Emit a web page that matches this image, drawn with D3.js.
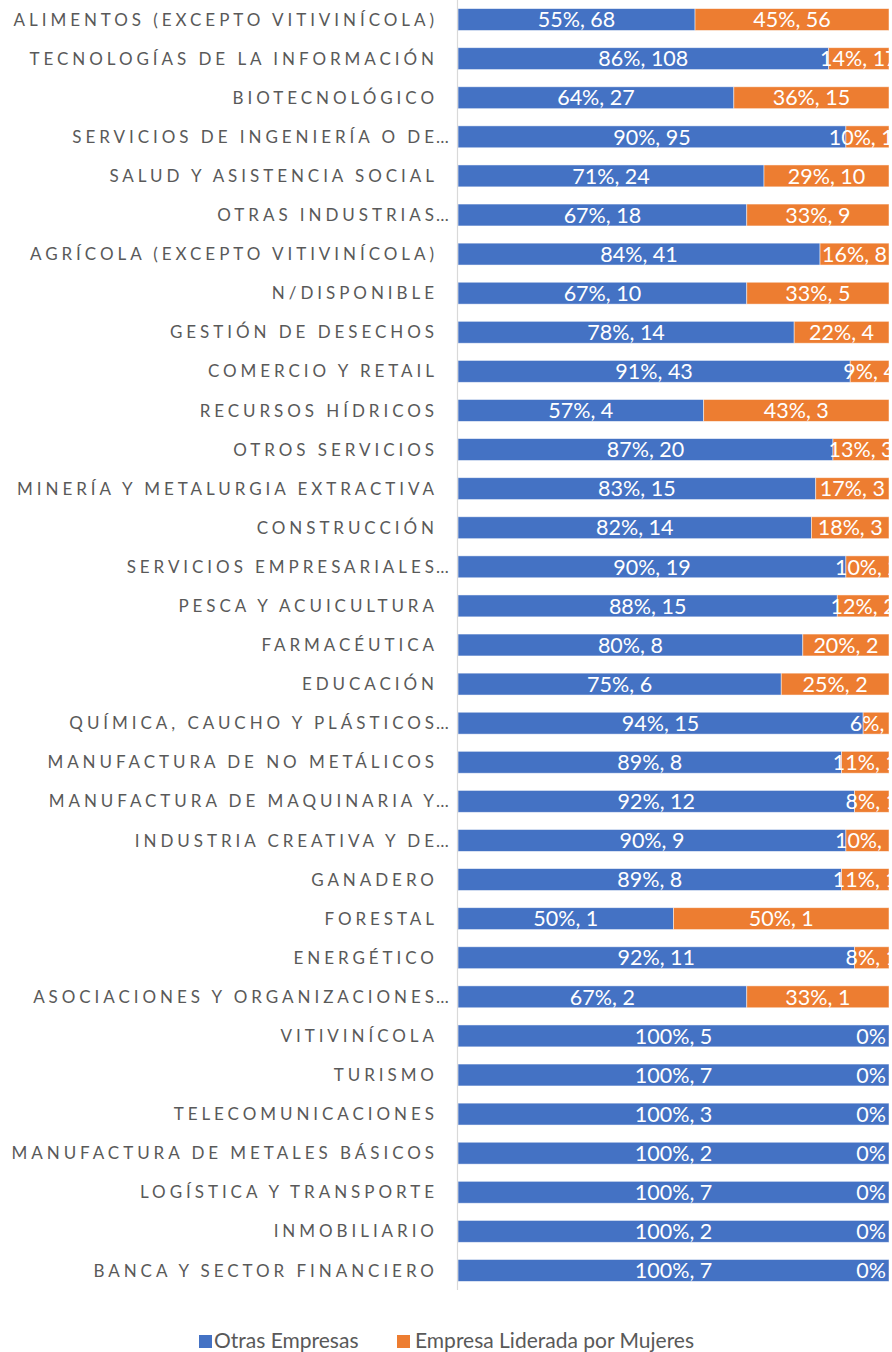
<!DOCTYPE html>
<html><head><meta charset="utf-8">
<script src="https://cdn.jsdelivr.net/npm/d3@7"></script>
<style>
html,body{margin:0;padding:0;background:#fff;}
svg{display:block;}
</style></head>
<body>
<svg id="chart" width="892" height="1352"></svg>
<script>
const categories = [
  "ALIMENTOS (EXCEPTO VITIVINÍCOLA)",
  "TECNOLOGÍAS DE LA INFORMACIÓN",
  "BIOTECNOLÓGICO",
  "SERVICIOS DE INGENIERÍA O DE…",
  "SALUD Y ASISTENCIA SOCIAL",
  "OTRAS INDUSTRIAS…",
  "AGRÍCOLA (EXCEPTO VITIVINÍCOLA)",
  "N/DISPONIBLE",
  "GESTIÓN DE DESECHOS",
  "COMERCIO Y RETAIL",
  "RECURSOS HÍDRICOS",
  "OTROS SERVICIOS",
  "MINERÍA Y METALURGIA EXTRACTIVA",
  "CONSTRUCCIÓN",
  "SERVICIOS EMPRESARIALES…",
  "PESCA Y ACUICULTURA",
  "FARMACÉUTICA",
  "EDUCACIÓN",
  "QUÍMICA, CAUCHO Y PLÁSTICOS…",
  "MANUFACTURA DE NO METÁLICOS",
  "MANUFACTURA DE MAQUINARIA Y…",
  "INDUSTRIA CREATIVA Y DE…",
  "GANADERO",
  "FORESTAL",
  "ENERGÉTICO",
  "ASOCIACIONES Y ORGANIZACIONES…",
  "VITIVINÍCOLA",
  "TURISMO",
  "TELECOMUNICACIONES",
  "MANUFACTURA DE METALES BÁSICOS",
  "LOGÍSTICA Y TRANSPORTE",
  "INMOBILIARIO",
  "BANCA Y SECTOR FINANCIERO"
];
const otrasPct   = [55,86,64,90,71,67,84,67,78,91,57,87,83,82,90,88,80,75,94,89,92,90,89,50,92,67,100,100,100,100,100,100,100];
const otrasCount = [68,108,27,95,24,18,41,10,14,43,4,20,15,14,19,15,8,6,15,8,12,9,8,1,11,2,5,7,3,2,7,2,7];
const mujeresPct   = [45,14,36,10,29,33,16,33,22,9,43,13,17,18,10,12,20,25,6,11,8,10,11,50,8,33,0,0,0,0,0,0,0];
const mujeresCount = [56,17,15,10,10,9,8,5,4,4,3,3,3,3,2,2,2,2,1,1,1,1,1,1,1,1,0,0,0,0,0,0,0];
const seriesNames = ["Otras Empresas", "Empresa Liderada por Mujeres"];
const seriesColors = ["#4472C4", "#ED7D31"];

const svg = d3.select("#chart");
const x0 = 458, x1 = 889;
const x = d3.scaleLinear().domain([0, 100]).range([x0, x1]);
const y = d3.scaleBand().domain(categories).range([0, 1290]).paddingInner(0.44).paddingOuter(0.22);

const rows = categories.map((c, i) => ({
  cat: c,
  segs: [
    {s: 0, start: 0, pct: otrasPct[i], n: otrasCount[i]},
    {s: 1, start: otrasPct[i], pct: mujeresPct[i], n: mujeresCount[i]}
  ]
}));

svg.append("defs").append("clipPath").attr("id", "plotclip")
  .append("rect").attr("x", x0).attr("y", 0).attr("width", x1 - x0).attr("height", 1300);

const plot = svg.append("g").attr("clip-path", "url(#plotclip)");

const rowG = plot.selectAll("g.row").data(rows).join("g").attr("class", "row");
rowG.selectAll("rect").data(d => d.segs.map(s => ({...s, cat: d.cat}))).join("rect")
  .attr("x", d => x(d.start))
  .attr("y", d => y(d.cat))
  .attr("width", d => x(d.start + d.pct) - x(d.start))
  .attr("height", y.bandwidth())
  .attr("fill", d => seriesColors[d.s])
  .attr("stroke", "#ffffff")
  .attr("stroke-opacity", 0.6)
  .attr("stroke-width", 0.8);

rowG.selectAll("text").data(d => d.segs.map(s => ({...s, cat: d.cat}))).join("text")
  .attr("x", d => d.pct === 0 ? x(100) - 3 : (x(d.start) + x(d.start + d.pct)) / 2)
  .attr("y", d => y(d.cat) + y.bandwidth() / 2)
  .attr("dy", "0.36em")
  .attr("text-anchor", d => d.pct === 0 ? "end" : "middle")
  .attr("fill", "#ffffff")
  .style("font-family", "Lato, 'Noto Sans', sans-serif")
  .style("font-size", "21.5px")
  .text(d => d.n === 0 ? d.pct + "%" : d.pct + "%, " + d.n);

// axis line
svg.append("line").attr("x1", 457.5).attr("x2", 457.5).attr("y1", 0).attr("y2", 1290)
  .attr("stroke", "#d9d9d9").attr("stroke-width", 1.2);

// category labels
const ls = 3.95;
const labG = svg.append("g");
categories.forEach(c => {
  const ell = c.endsWith("…");
  const main = ell ? c.slice(0, -1) : c;
  const yy = y(c) + y.bandwidth() / 2;
  labG.append("text")
    .attr("x", 434 + ls).attr("y", yy).attr("dy", "0.36em")
    .attr("text-anchor", "end")
    .attr("fill", "#595959")
    .style("font-family", "Lato, 'Noto Sans', sans-serif")
    .style("font-size", "17px")
    .style("letter-spacing", ls + "px")
    .text(main);
  if (ell) {
    labG.append("text")
      .attr("x", 436).attr("y", yy).attr("dy", "0.36em")
      .attr("fill", "#595959")
      .style("font-family", "Lato, 'Noto Sans', sans-serif")
      .style("font-size", "17px")
      .text("…");
  }
});

// legend
const legend = [{x: 199, tx: 214}, {x: 397, tx: 415}];
legend.forEach((l, i) => {
  svg.append("rect").attr("x", l.x).attr("y", 1335).attr("width", 13).attr("height", 13).attr("fill", seriesColors[i]);
  svg.append("text").attr("x", l.tx).attr("y", 1348)
    .attr("fill", "#595959")
    .style("font-family", "Lato, 'Noto Sans', sans-serif")
    .style("font-size", "21px")
    .text(seriesNames[i]);
});
</script>
</body></html>
